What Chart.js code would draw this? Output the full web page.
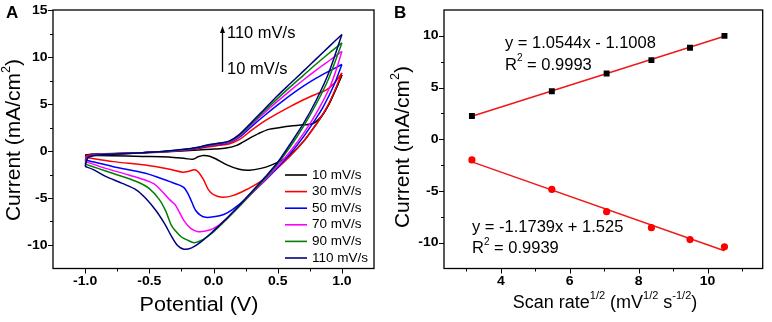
<!DOCTYPE html>
<html>
<head>
<meta charset="utf-8">
<script src="https://cdn.jsdelivr.net/npm/chart.js@4.4.1/dist/chart.umd.min.js"></script>
<style>
  html, body { margin: 0; padding: 0; background: #fff; }
  #wrap { position: relative; width: 772px; height: 322px; }
  .pane { position: absolute; top: 0; width: 386px; height: 322px; }
</style>
</head>
<body>
<div id="wrap">
  <div class="pane" style="left:0"><canvas id="cvA"></canvas></div>
  <div class="pane" style="left:386px"><canvas id="cvB"></canvas></div>
</div>
<script>
// ---- panel A: cyclic voltammograms ----
const scanRates = ["10 mV/s", "30 mV/s", "50 mV/s", "70 mV/s", "90 mV/s", "110 mV/s"];
const cvColors = ["#000000", "#ff0000", "#0000ff", "#ff00ff", "#008000", "#000080"];

// forward (anodic) and return (cathodic) branches, [potential V, current mA/cm2]
const up10 = [[-1.0,-0.45],[-0.94,-0.33],[-0.85,-0.3],[-0.7,-0.24],[-0.55,-0.18],[-0.4,-0.1],[-0.25,0.0],[-0.12,0.1],[0.0,0.2],[0.1,0.32],[0.18,0.6],[0.28,1.35],[0.35,1.85],[0.43,2.3],[0.52,2.5],[0.6,2.65],[0.7,2.78],[0.78,2.95],[0.85,3.85],[0.9,5.0],[0.95,6.5],[1.0,8.1]];
const down10 = [[1.0,8.1],[0.95,6.5],[0.9,5.0],[0.85,3.85],[0.8,2.85],[0.7,1.0],[0.6,-0.4],[0.53,-1.0],[0.45,-1.5],[0.37,-1.85],[0.28,-2.05],[0.2,-1.95],[0.1,-1.45],[0.02,-0.85],[-0.03,-0.55],[-0.08,-0.48],[-0.12,-0.62],[-0.16,-0.88],[-0.22,-0.8],[-0.35,-0.65],[-0.55,-0.58],[-0.8,-0.5],[-1.0,-0.45]];

const up30 = [[-1.0,-0.67],[-0.98,-0.45],[-0.94,-0.38],[-0.85,-0.32],[-0.7,-0.25],[-0.55,-0.18],[-0.4,-0.1],[-0.25,0.05],[-0.12,0.25],[-0.03,0.45],[0.05,0.6],[0.12,0.75],[0.2,1.2],[0.3,2.25],[0.4,3.2],[0.5,4.0],[0.6,4.75],[0.7,5.45],[0.8,6.05],[0.88,6.5],[0.94,7.2],[1.0,8.3]];
const down30 = [[1.0,8.3],[0.95,6.6],[0.9,5.1],[0.85,3.9],[0.8,2.85],[0.7,1.0],[0.6,-0.5],[0.5,-1.8],[0.42,-2.75],[0.36,-3.3],[0.25,-4.15],[0.15,-4.75],[0.07,-4.93],[0.0,-4.65],[-0.04,-4.1],[-0.08,-3.0],[-0.12,-2.2],[-0.15,-2.0],[-0.19,-2.15],[-0.24,-2.25],[-0.34,-1.95],[-0.53,-1.5],[-0.78,-1.13],[-1.0,-0.67]];

const up50 = [[-1.0,-0.95],[-0.98,-0.6],[-0.94,-0.42],[-0.85,-0.34],[-0.7,-0.26],[-0.55,-0.18],[-0.4,-0.08],[-0.25,0.08],[-0.12,0.3],[-0.03,0.57],[0.05,0.72],[0.12,0.9],[0.2,1.45],[0.3,2.65],[0.4,3.8],[0.5,4.9],[0.6,5.95],[0.7,6.9],[0.8,7.75],[0.9,8.5],[1.0,9.2]];
const down50 = [[1.0,9.2],[0.95,7.4],[0.9,5.9],[0.85,4.6],[0.8,3.5],[0.7,1.5],[0.6,-0.25],[0.5,-1.75],[0.38,-3.44],[0.25,-5.1],[0.15,-6.2],[0.08,-6.75],[0.0,-7.0],[-0.06,-7.06],[-0.1,-6.85],[-0.14,-6.3],[-0.17,-5.4],[-0.2,-4.5],[-0.23,-3.9],[-0.27,-3.6],[-0.34,-3.26],[-0.53,-2.37],[-0.78,-1.67],[-1.0,-0.95]];

const up70 = [[-1.0,-1.1],[-0.98,-0.65],[-0.94,-0.45],[-0.85,-0.35],[-0.7,-0.27],[-0.55,-0.18],[-0.4,-0.07],[-0.25,0.1],[-0.12,0.35],[-0.03,0.62],[0.05,0.78],[0.12,0.95],[0.2,1.55],[0.3,2.85],[0.4,4.1],[0.5,5.3],[0.6,6.45],[0.7,7.55],[0.8,8.6],[0.9,9.6],[1.0,10.6]];
const down70 = [[1.0,10.6],[0.95,8.4],[0.9,6.6],[0.8,4.0],[0.7,1.85],[0.6,0.0],[0.5,-1.6],[0.4,-3.1],[0.3,-4.5],[0.2,-5.9],[0.1,-7.2],[0.04,-7.9],[-0.03,-8.4],[-0.12,-8.58],[-0.18,-8.2],[-0.23,-7.4],[-0.27,-6.4],[-0.3,-5.7],[-0.34,-5.2],[-0.4,-4.3],[-0.47,-3.44],[-0.66,-2.55],[-0.84,-1.85],[-1.0,-1.1]];

const up90 = [[-1.0,-1.4],[-0.98,-0.7],[-0.94,-0.48],[-0.85,-0.37],[-0.7,-0.28],[-0.55,-0.18],[-0.4,-0.06],[-0.25,0.13],[-0.12,0.38],[-0.03,0.67],[0.05,0.82],[0.12,1.0],[0.2,1.65],[0.3,2.95],[0.4,4.3],[0.5,5.6],[0.6,6.85],[0.7,8.05],[0.8,9.25],[0.9,10.4],[1.0,11.5]];
const down90 = [[1.0,11.5],[0.9,7.8],[0.8,5.0],[0.7,2.6],[0.6,0.5],[0.5,-1.35],[0.4,-2.95],[0.3,-4.45],[0.2,-5.9],[0.1,-7.3],[0.0,-8.6],[-0.08,-9.4],[-0.15,-9.75],[-0.2,-9.5],[-0.25,-9.15],[-0.29,-8.6],[-0.33,-7.85],[-0.37,-6.45],[-0.42,-5.2],[-0.5,-4.0],[-0.6,-3.25],[-0.78,-2.4],[-0.9,-1.85],[-1.0,-1.4]];

const up110 = [[-1.0,-1.65],[-0.98,-0.75],[-0.94,-0.5],[-0.85,-0.38],[-0.7,-0.28],[-0.55,-0.18],[-0.4,-0.05],[-0.25,0.15],[-0.12,0.4],[-0.03,0.7],[0.05,0.85],[0.12,1.05],[0.2,1.75],[0.3,3.1],[0.4,4.5],[0.5,5.9],[0.6,7.2],[0.7,8.5],[0.8,9.8],[0.9,11.1],[1.0,12.4]];
const down110 = [[1.0,12.4],[0.9,8.4],[0.8,5.4],[0.7,2.9],[0.6,0.8],[0.5,-1.2],[0.4,-2.8],[0.3,-4.3],[0.2,-5.8],[0.1,-7.2],[0.0,-8.5],[-0.1,-9.7],[-0.17,-10.3],[-0.23,-10.45],[-0.28,-10.05],[-0.33,-9.0],[-0.38,-7.75],[-0.45,-6.3],[-0.53,-5.0],[-0.6,-4.15],[-0.71,-3.45],[-0.84,-2.7],[-0.94,-1.95],[-1.0,-1.65]];

const xTicksA = [-1.0, -0.5, 0.0, 0.5, 1.0];
const xMinorA = [-0.75, -0.25, 0.25, 0.75];
const yTicksA = [-10, -5, 0, 5, 10, 15];
const yMinorA = [-7.5, -2.5, 2.5, 7.5, 12.5];

// ---- panel B: peak current vs sqrt(scan rate) ----
const sqrtRate = [3.16, 5.48, 7.07, 8.37, 9.49, 10.49];
const anodicPeak = [2.25, 4.65, 6.35, 7.65, 8.85, 10.0];
const cathodicPeak = [-2.0, -4.85, -7.0, -8.55, -9.7, -10.4];
const fitX = [3.16, 10.49];
const fitAnodic = [2.23, 9.96];
const fitCathodic = [-2.19, -10.79];

const xTicksB = [4, 6, 8, 10];
const xMinorB = [3, 5, 7, 9, 11];
const yTicksB = [-10, -5, 0, 5, 10];
const yMinorB = [-7.5, -2.5, 2.5, 7.5];

const FONT = '"Liberation Sans", Arial, sans-serif';

// text with superscript parts: parts = [[text, isSup], ...]
function rich(ctx, parts, x, y, size, supSize, opts) {
  const o = opts || {};
  ctx.save();
  ctx.translate(x, y);
  if (o.rot) ctx.rotate(o.rot);
  ctx.scale(o.sx || 1, 1);
  ctx.fillStyle = "#000";
  ctx.textBaseline = "middle";
  ctx.textAlign = "left";
  const f = s => (o.bold ? "bold " : "") + s + "px " + FONT;
  let w = 0;
  parts.forEach(p => { ctx.font = f(p[1] ? supSize : size); w += ctx.measureText(p[0]).width; });
  let cx = o.align === "left" ? 0 : o.align === "right" ? -w : -w / 2;
  parts.forEach(p => {
    ctx.font = f(p[1] ? supSize : size);
    ctx.fillText(p[0], cx, p[1] ? -size * 0.38 : 0);
    cx += ctx.measureText(p[0]).width;
  });
  ctx.restore();
}

const boxPlugin = (cfg) => ({
  id: "boxAxes",
  afterDatasetsDraw(chart) {
    const ctx = chart.ctx;
    const a = chart.chartArea;
    const sx = chart.scales.x;
    const sy = chart.scales.y;
    ctx.save();
    ctx.strokeStyle = "#000";
    ctx.lineWidth = 1;
    ctx.beginPath();
    const tick = (v, len, isX) => {
      if (isX) {
        const p = Math.round(sx.getPixelForValue(v)) + 0.5;
        ctx.moveTo(p, a.bottom);
        ctx.lineTo(p, a.bottom + len);
      } else {
        const p = Math.round(sy.getPixelForValue(v)) + 0.5;
        ctx.moveTo(a.left, p);
        ctx.lineTo(a.left - len, p);
      }
    };
    cfg.xt.forEach(v => tick(v, 5, true));
    cfg.xm.forEach(v => tick(v, 3, true));
    cfg.yt.forEach(v => tick(v, 5, false));
    cfg.ym.forEach(v => tick(v, 3, false));
    ctx.stroke();
    ctx.lineWidth = 1.3;
    ctx.strokeRect(a.left, a.top, a.right - a.left, a.bottom - a.top);
    ctx.restore();

    cfg.xt.forEach(v => rich(ctx, [[cfg.xfmt(v), 0]], sx.getPixelForValue(v), a.bottom + 13, 13, 13, { bold: true, sx: 1.08 }));
    cfg.yt.forEach(v => rich(ctx, [[String(v), 0]], a.left - 5.5, sy.getPixelForValue(v), 13, 13, { bold: true, sx: 1.08, align: "right" }));
    cfg.extra(ctx, a);
  }
});

// ---- chart A ----
const branchesA = [[up10, down10], [up30, down30], [up50, down50], [up70, down70], [up90, down90], [up110, down110]];
const dsA = [];
for (let i = scanRates.length - 1; i >= 0; i--) {
  branchesA[i].forEach(pts => {
    dsA.push({
      label: scanRates[i],
      data: pts.map(p => ({ x: p[0], y: p[1] })),
      showLine: true,
      borderColor: cvColors[i],
      borderWidth: 1.5,
      pointRadius: 0,
      tension: 0.3,
      fill: false,
    });
  });
}

new Chart(document.getElementById("cvA"), {
  type: "scatter",
  data: { datasets: dsA },
  options: {
    responsive: true,
    maintainAspectRatio: false,
    animation: false,
    events: [],
    layout: { padding: { left: 53, right: 12, top: 10, bottom: 53.5 } },
    scales: {
      x: { type: "linear", display: false, min: -1.25, max: 1.25 },
      y: { type: "linear", display: false, min: -12.5, max: 15 },
    },
    plugins: { legend: { display: false }, tooltip: { enabled: false } },
  },
  plugins: [boxPlugin({
    xt: xTicksA, xm: xMinorA, yt: yTicksA, ym: yMinorA,
    xfmt: v => v.toFixed(1),
    extra: (ctx, a) => {
      rich(ctx, [["A", 0]], 6, 13, 17, 17, { align: "left", bold: true });
      rich(ctx, [["Current (mA/cm", 0], ["2", 1], [")", 0]], 14, 140, 20, 12, { rot: -Math.PI / 2, sx: 1.05 });
      rich(ctx, [["Potential (V)", 0]], 199, 305, 20, 20, { sx: 1.08 });
      // legend
      ctx.save();
      scanRates.forEach((s, i) => {
        const y = 175 + i * 16.6;
        ctx.strokeStyle = cvColors[i];
        ctx.lineWidth = 1.6;
        ctx.beginPath();
        ctx.moveTo(285, y);
        ctx.lineTo(307, y);
        ctx.stroke();
      });
      ctx.restore();
      scanRates.forEach((s, i) => rich(ctx, [[s, 0]], 312, 175 + i * 16.6, 13, 13, { align: "left", sx: 1.04 }));
      // scan-rate arrow
      ctx.save();
      ctx.strokeStyle = "#000";
      ctx.fillStyle = "#000";
      ctx.lineWidth = 1.3;
      ctx.beginPath();
      ctx.moveTo(222.5, 72);
      ctx.lineTo(222.5, 31);
      ctx.stroke();
      ctx.beginPath();
      ctx.moveTo(222.5, 26);
      ctx.lineTo(225, 33);
      ctx.lineTo(220, 33);
      ctx.closePath();
      ctx.fill();
      ctx.restore();
      rich(ctx, [["110 mV/s", 0]], 227, 34, 16, 16, { align: "left", sx: 1.03 });
      rich(ctx, [["10 mV/s", 0]], 227, 70, 16, 16, { align: "left", sx: 1.03 });
    },
  })],
});

// ---- chart B ----
new Chart(document.getElementById("cvB"), {
  type: "scatter",
  data: {
    datasets: [
      {
        label: "anodic",
        data: sqrtRate.map((x, i) => ({ x, y: anodicPeak[i] })),
        pointStyle: "rect",
        pointRadius: 4.2,
        backgroundColor: "#000",
        borderColor: "#000",
        borderWidth: 0,
      },
      {
        label: "cathodic",
        data: sqrtRate.map((x, i) => ({ x, y: cathodicPeak[i] })),
        pointStyle: "circle",
        pointRadius: 3.6,
        backgroundColor: "#ff0000",
        borderColor: "#ff0000",
        borderWidth: 0,
      },
      {
        label: "fit anodic",
        data: fitX.map((x, i) => ({ x, y: fitAnodic[i] })),
        showLine: true,
        pointRadius: 0,
        borderColor: "#f01818",
        borderWidth: 1.5,
      },
      {
        label: "fit cathodic",
        data: fitX.map((x, i) => ({ x, y: fitCathodic[i] })),
        showLine: true,
        pointRadius: 0,
        borderColor: "#f01818",
        borderWidth: 1.5,
      },
    ],
  },
  options: {
    responsive: true,
    maintainAspectRatio: false,
    animation: false,
    events: [],
    layout: { padding: { left: 58, right: 9.3, top: 10, bottom: 53.5 } },
    scales: {
      x: { type: "linear", display: false, min: 2.35, max: 11.6 },
      y: { type: "linear", display: false, min: -12.5, max: 12.5 },
    },
    plugins: { legend: { display: false }, tooltip: { enabled: false } },
  },
  plugins: [boxPlugin({
    xt: xTicksB, xm: xMinorB, yt: yTicksB, ym: yMinorB,
    xfmt: v => String(v),
    extra: (ctx, a) => {
      rich(ctx, [["B", 0]], 8, 13, 17, 17, { align: "left", bold: true });
      rich(ctx, [["Current (mA/cm", 0], ["2", 1], [")", 0]], 17.5, 147, 20, 12, { rot: -Math.PI / 2, sx: 1.05 });
      rich(ctx, [["Scan rate", 0], ["1/2", 1], [" (mV", 0], ["1/2", 1], [" s", 0], ["-1/2", 1], [")", 0]], 219, 303, 18, 11);
      rich(ctx, [["y = 1.0544x - 1.1008", 0]], 119, 43, 16.5, 16.5, { align: "left" });
      rich(ctx, [["R", 0], ["2", 1], [" = 0.9993", 0]], 119, 65, 16.5, 10, { align: "left" });
      rich(ctx, [["y = -1.1739x + 1.525", 0]], 86, 227, 16.5, 16.5, { align: "left" });
      rich(ctx, [["R", 0], ["2", 1], [" = 0.9939", 0]], 86, 248.5, 16.5, 10, { align: "left" });
    },
  })],
});
</script>
</body>
</html>
